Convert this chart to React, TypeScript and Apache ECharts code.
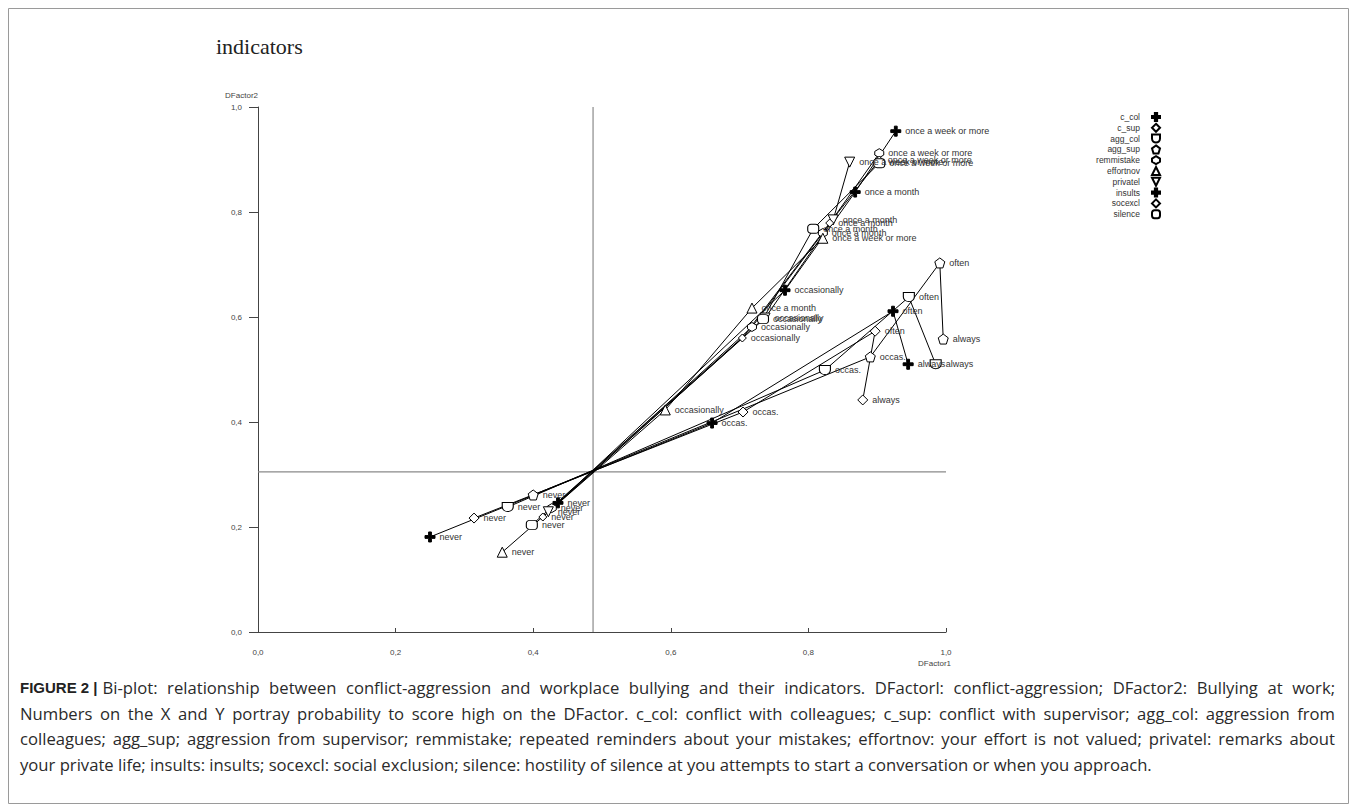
import React, { useEffect, useRef } from "react";
import * as echarts from "echarts";

// ---------- data ----------
const lowCats = ["never", "occas.", "often", "always"];
const highCats = ["never", "occasionally", "once a month", "once a week or more"];

const c_colX = [0.25, 0.66, 0.923, 0.945];
const c_colY = [0.181, 0.398, 0.611, 0.51];
const c_supX = [0.314, 0.705, 0.897, 0.879];
const c_supY = [0.217, 0.419, 0.573, 0.442];
const agg_colX = [0.363, 0.824, 0.946, 0.985];
const agg_colY = [0.238, 0.499, 0.638, 0.51];
const agg_supX = [0.4, 0.89, 0.991, 0.996];
const agg_supY = [0.261, 0.524, 0.703, 0.558];

const remmistakeX = [0.427, 0.718, 0.821, 0.903];
const remmistakeY = [0.236, 0.581, 0.76, 0.912];
const effortnovX = [0.355, 0.592, 0.718, 0.821];
const effortnovY = [0.152, 0.423, 0.617, 0.75];
const privatelX = [0.422, 0.737, 0.836, 0.86];
const privatelY = [0.229, 0.598, 0.785, 0.895];
const insultsX = [0.436, 0.766, 0.868, 0.927];
const insultsY = [0.246, 0.651, 0.838, 0.954];
const socexclX = [0.414, 0.704, 0.831, 0.903];
const socexclY = [0.219, 0.56, 0.779, 0.899];
const silenceX = [0.398, 0.734, 0.807, 0.903];
const silenceY = [0.204, 0.596, 0.768, 0.893];

const refX = 0.487;
const refY = 0.305;
const axisMin = 0;
const axisMax = 1;
const axisStep = 0.2;

const indicatorNames = [
  "c_col", "c_sup", "agg_col", "agg_sup", "remmistake",
  "effortnov", "privatel", "insults", "socexcl", "silence",
];

const captionLead = "FIGURE 2 |";
const captionLines = [
  "Bi-plot: relationship between conflict-aggression and workplace bullying and their indicators. DFactorl: conflict-aggression; DFactor2: Bullying at work;",
  "Numbers on the X and Y portray probability to score high on the DFactor. c_col: conflict with colleagues; c_sup: conflict with supervisor; agg_col: aggression from",
  "colleagues; agg_sup; aggression from supervisor; remmistake; repeated reminders about your mistakes; effortnov: your effort is not valued; privatel: remarks about",
  "your private life; insults: insults; socexcl: social exclusion; silence: hostility of silence at you attempts to start a conversation or when you approach.",
];

// ---------- symbols ----------
const PLUS = "path://M3.6,0H6.4V3.6H10V6.4H6.4V10H3.6V6.4H0V3.6H3.6Z";
const CUP = "path://M0,0H10V5A5,5 0 0 1 0,5Z";
const ROUND = "path://M3,0H7A3,3 0 0 1 10,3V6A3,3 0 0 1 7,9H3A3,3 0 0 1 0,6V3A3,3 0 0 1 3,0Z";
const PENT = "path://M5,0L10,3.8L8.1,10H1.9L0,3.8Z";
const HEX = "path://M5,0L10,3L10,7L5,10L0,7L0,3Z";
const DOWN = "path://M0,0H10L5,9Z";
const SMALLDIA = "path://M5,0L10,5L5,10L0,5Z";

const FONT = "'Liberation Sans', Arial, sans-serif";
const CAP_FONT = "'Open Sans', 'Liberation Sans', sans-serif";

export default function App() {
  const ref = useRef<HTMLDivElement>(null);

  useEffect(() => {
    if (!ref.current) return;
    const chart = echarts.init(ref.current, undefined, { renderer: "svg" });

    // text measuring for the justified caption
    const cvs = document.createElement("canvas");
    const ctx = cvs.getContext("2d") as CanvasRenderingContext2D;
    const measure = (t: string, font: string) => {
      ctx.font = font;
      return ctx.measureText(t).width;
    };

    const capLeft = 12; // chart coords (page x 20)
    const capRight = 1327; // page x 1335
    const lastLineWidth = 1133;
    const baseW = measure(captionLines[3], `15px ${CAP_FONT}`);
    let capSize = (15 * lastLineWidth) / baseW;
    capSize = Math.max(13, Math.min(18.5, capSize));
    const capFontStr = `${capSize}px ${CAP_FONT}`;
    const leadFontStr = `bold 15px ${FONT}`;
    const leadW = measure(captionLead, leadFontStr);
    const spaceW = measure(" ", capFontStr);
    const lineYs = [679, 705, 730.5, 756];

    const captionEls: any[] = [
      {
        type: "text",
        x: capLeft,
        y: lineYs[0],
        style: {
          text: captionLead,
          fontSize: 15,
          fontWeight: "bold",
          fontFamily: FONT,
          fill: "#222",
          verticalAlign: "middle",
        },
      },
    ];
    captionLines.forEach((line, li) => {
      const words = line.split(" ");
      const widths = words.map((w) => measure(w, capFontStr));
      const start = li === 0 ? capLeft + leadW + 5 : capLeft;
      const total = widths.reduce((a, b) => a + b, 0);
      const justify = li < 3;
      const gap = justify ? (capRight - start - total) / (words.length - 1) : spaceW;
      let x = start;
      words.forEach((w, wi) => {
        captionEls.push({
          type: "text",
          x,
          y: lineYs[li],
          style: {
            text: w,
            fontSize: capSize,
            fontFamily: CAP_FONT,
            fill: "#2a2a2a",
            verticalAlign: "middle",
          },
          silent: true,
        });
        x += widths[wi] + gap;
      });
    });

    const mk = (
      name: string,
      xs: number[],
      ys: number[],
      cats: string[],
      symbol: string,
      filled: boolean,
      size: number | number[]
    ) => ({
      type: "line",
      name,
      data: xs.map((x, i) => [x, ys[i], cats[i]]),
      symbol,
      symbolSize: size,
      showAllSymbol: true,
      lineStyle: { color: "#000", width: 1 },
      itemStyle: { color: filled ? "#000" : "#fff", borderColor: "#000", borderWidth: 1 },
      label: {
        show: true,
        position: "right",
        distance: 4,
        formatter: (p: any) => p.data[2],
        fontSize: 9,
        fontFamily: FONT,
        color: "#333",
      },
      emphasis: { disabled: true },
      z: 3,
    });

    const fmt = (v: number) => v.toFixed(1).replace(".", ",");

    const option: any = {
      animation: false,
      textStyle: { fontFamily: FONT },
      grid: { left: 250, top: 99, width: 688, height: 525, containLabel: false },
      xAxis: {
        type: "value",
        min: axisMin,
        max: axisMax,
        interval: axisStep,
        offset: 11,
        axisLine: { show: true, lineStyle: { color: "#444", width: 1 } },
        axisTick: { show: true, inside: true, length: 4, lineStyle: { color: "#444" } },
        axisLabel: { fontSize: 8, color: "#444", margin: 5, formatter: fmt },
        splitLine: { show: false },
        name: "DFactor1",
        nameLocation: "end",
        nameGap: 5,
        nameTextStyle: { fontSize: 8, color: "#444", align: "right", verticalAlign: "top", padding: [27, 0, 0, 0] },
      },
      yAxis: {
        type: "value",
        min: axisMin,
        max: axisMax,
        interval: axisStep,
        offset: 12,
        axisLine: { show: true, lineStyle: { color: "#444", width: 1 } },
        axisTick: { show: true, inside: false, length: 9, lineStyle: { color: "#444" } },
        axisLabel: { fontSize: 8, color: "#444", margin: 4, formatter: fmt },
        splitLine: { show: false },
        name: "DFactor2",
        nameLocation: "end",
        nameGap: 8,
        nameTextStyle: { fontSize: 8, color: "#444", align: "right" },
      },
      legend: {
        data: indicatorNames,
        orient: "vertical",
        right: 182,
        top: 99,
        align: "right",
        itemWidth: 10,
        itemHeight: 10,
        itemGap: 0.8,
        lineStyle: { opacity: 0 },
        textStyle: { fontSize: 8.5, color: "#333", fontFamily: FONT, padding: [0, 6, 0, 0] },
        selectedMode: false,
      },
      series: [
        {
          type: "line",
          name: "refV",
          data: [[refX, axisMin], [refX, axisMax]],
          symbol: "none",
          lineStyle: { color: "#8a8a8a", width: 1.2 },
          silent: true,
          z: 1,
        },
        {
          type: "line",
          name: "refH",
          data: [[axisMin, refY], [axisMax, refY]],
          symbol: "none",
          lineStyle: { color: "#8a8a8a", width: 1.2 },
          silent: true,
          z: 1,
        },
        mk("c_col", c_colX, c_colY, lowCats, PLUS, true, 10),
        mk("c_sup", c_supX, c_supY, lowCats, "diamond", false, 10),
        mk("agg_col", agg_colX, agg_colY, lowCats, CUP, false, [11, 9]),
        mk("agg_sup", agg_supX, agg_supY, lowCats, PENT, false, 10),
        mk("remmistake", remmistakeX, remmistakeY, highCats, HEX, false, 9),
        mk("effortnov", effortnovX, effortnovY, highCats, "triangle", false, 10),
        mk("privatel", privatelX, privatelY, highCats, DOWN, false, 10),
        mk("insults", insultsX, insultsY, highCats, PLUS, true, 10),
        mk("socexcl", socexclX, socexclY, highCats, SMALLDIA, false, 8),
        mk("silence", silenceX, silenceY, highCats, ROUND, false, [11, 9]),
      ],
      graphic: [
        {
          type: "rect",
          shape: { x: 0.5, y: 0.5, width: 1340, height: 795 },
          style: { fill: "none", stroke: "#9a9a9a", lineWidth: 1 },
          silent: true,
        },
        {
          type: "text",
          x: 208,
          y: 38,
          style: {
            text: "indicators",
            fontSize: 22,
            fontFamily: "'Liberation Serif', 'Times New Roman', serif",
            fill: "#222",
            verticalAlign: "middle",
          },
        },
        ...captionEls,
      ],
    };

    chart.setOption(option);
    return () => chart.dispose();
  }, []);

  return <div ref={ref} style={{ width: 1341, height: 796 }} />;
}
